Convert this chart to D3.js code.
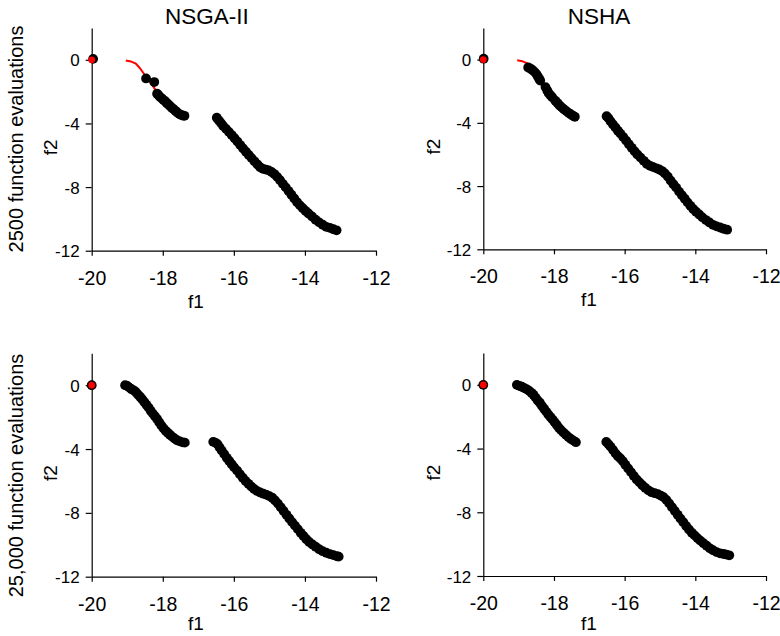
<!DOCTYPE html>
<html>
<head>
<meta charset="utf-8">
<script src="https://cdn.jsdelivr.net/npm/d3@7"></script>
<style>
  html, body { margin: 0; padding: 0; background: #fff; }
  svg text { font-family: "Liberation Sans", Arial, Helvetica, sans-serif; fill: #000; }
</style>
</head>
<body>
<svg id="chart" width="780" height="636"></svg>
<script>
// ---------------- DATA ----------------
const columnTitles = ["NSGA-II", "NSHA"];
const rowTitles = ["2500 function evaluations", "25,000 function evaluations"];
const xTicks = [-20, -18, -16, -14, -12];
const yTicks = [0, -4, -8, -12];
const xDomain = [-20, -12];
const yDomain = [-12, 2];

// true Pareto front (red)
const trueIsolated = [-20, 0];
const trueFrontA = [[-19.04,-0.04],[-18.90,-0.10],[-18.76,-0.24],[-18.66,-0.48],[-18.56,-0.78],[-18.47,-1.08],[-18.36,-1.38],[-18.26,-1.70],[-18.17,-2.03],[-18.05,-2.35],[-17.92,-2.66],[-17.78,-2.95],[-17.64,-3.22],[-17.50,-3.45],[-17.38,-3.58]];
const trueFrontB = [[-16.52,-3.58],[-16.40,-3.92],[-16.26,-4.32],[-16.10,-4.72],[-15.92,-5.25],[-15.72,-5.80],[-15.52,-6.30],[-15.32,-6.64],[-15.14,-6.84],[-14.98,-6.96],[-14.86,-7.18],[-14.72,-7.55],[-14.56,-8.05],[-14.40,-8.52],[-14.22,-9.00],[-14.02,-9.48],[-13.80,-9.92],[-13.58,-10.26],[-13.36,-10.52],[-13.18,-10.66],[-13.06,-10.74]];

// obtained solutions (black), one list per panel
const nsga2500 = [
  [-19.96,0.06],
  [-18.47,-1.17],[-18.24,-1.40],
  [-18.16,-2.13],[-18.12,-2.22],[-18.08,-2.33],[-18.03,-2.42],[-17.98,-2.53],[-17.93,-2.61],[-17.89,-2.72],[-17.84,-2.81],[-17.79,-2.92],[-17.74,-3.03],[-17.69,-3.11],[-17.64,-3.22],[-17.59,-3.31],[-17.54,-3.40],[-17.49,-3.46],[-17.44,-3.50],[-17.39,-3.52],
  [-16.48,-3.64],[-16.42,-3.82],[-16.36,-3.98],[-16.30,-4.16],[-16.22,-4.34],[-16.14,-4.53],[-16.06,-4.73],[-15.98,-4.93],[-15.90,-5.14],[-15.82,-5.36],[-15.74,-5.57],[-15.66,-5.78],[-15.58,-5.98],[-15.50,-6.18],[-15.42,-6.38],[-15.34,-6.57],[-15.26,-6.75],[-15.18,-6.85],[-15.10,-6.90],[-15.02,-6.95],[-14.94,-7.05],[-14.86,-7.18],[-14.78,-7.36],[-14.70,-7.57],[-14.62,-7.80],[-14.54,-8.02],[-14.46,-8.25],[-14.38,-8.48],[-14.30,-8.72],[-14.22,-8.95],[-14.14,-9.15],[-14.06,-9.33],[-13.98,-9.50],[-13.90,-9.66],[-13.80,-9.85],[-13.70,-10.05],[-13.60,-10.22],[-13.50,-10.37],[-13.40,-10.50],[-13.30,-10.56],[-13.20,-10.65],[-13.11,-10.72]
];
const nsha2500 = [
  [-19.99,0.06],
  [-18.73,-0.50],[-18.68,-0.55],[-18.62,-0.64],[-18.56,-0.76],[-18.50,-0.90],[-18.46,-1.05],[-18.42,-1.21],[-18.39,-1.32],
  [-18.24,-1.74],[-18.19,-1.95],[-18.15,-2.12],[-18.10,-2.25],[-18.05,-2.38],[-17.96,-2.60],[-17.90,-2.75],[-17.84,-2.90],[-17.78,-3.02],[-17.72,-3.14],[-17.65,-3.26],[-17.58,-3.38],[-17.52,-3.47],[-17.46,-3.55],[-17.41,-3.62],
  [-16.51,-3.58],[-16.46,-3.70],[-16.40,-3.90],[-16.33,-4.10],[-16.26,-4.30],[-16.19,-4.50],[-16.12,-4.68],[-16.04,-4.90],[-15.96,-5.12],[-15.88,-5.35],[-15.80,-5.58],[-15.72,-5.80],[-15.64,-6.00],[-15.55,-6.20],[-15.46,-6.40],[-15.37,-6.60],[-15.28,-6.72],[-15.19,-6.80],[-15.10,-6.88],[-15.02,-6.95],[-14.94,-7.05],[-14.86,-7.20],[-14.78,-7.40],[-14.70,-7.65],[-14.62,-7.88],[-14.54,-8.10],[-14.46,-8.35],[-14.38,-8.58],[-14.30,-8.80],[-14.22,-9.03],[-14.14,-9.25],[-14.06,-9.45],[-13.98,-9.62],[-13.89,-9.80],[-13.80,-9.98],[-13.70,-10.15],[-13.60,-10.30],[-13.50,-10.45],[-13.40,-10.55],[-13.30,-10.62],[-13.20,-10.70],[-13.10,-10.76]
];
const nsga25000 = [
  [-20.00,0.00],
  [-19.06,0.00],[-19.00,-0.05],[-18.94,-0.15],[-18.88,-0.25],[-18.82,-0.32],[-18.76,-0.42],[-18.70,-0.58],[-18.64,-0.72],[-18.58,-0.88],[-18.52,-1.05],[-18.46,-1.22],[-18.40,-1.40],[-18.34,-1.60],[-18.28,-1.78],[-18.22,-1.95],[-18.16,-2.12],[-18.10,-2.32],[-18.04,-2.52],[-17.98,-2.70],[-17.92,-2.85],[-17.86,-2.98],[-17.80,-3.10],[-17.74,-3.22],[-17.67,-3.34],[-17.60,-3.45],[-17.52,-3.52],[-17.44,-3.58],[-17.38,-3.60],
  [-16.58,-3.55],[-16.52,-3.60],[-16.46,-3.70],[-16.40,-3.90],[-16.34,-4.10],[-16.27,-4.32],[-16.20,-4.55],[-16.13,-4.75],[-16.06,-4.95],[-15.99,-5.15],[-15.91,-5.35],[-15.83,-5.58],[-15.75,-5.80],[-15.67,-6.00],[-15.59,-6.18],[-15.51,-6.35],[-15.43,-6.50],[-15.35,-6.62],[-15.26,-6.72],[-15.17,-6.80],[-15.08,-6.87],[-15.00,-6.95],[-14.92,-7.05],[-14.84,-7.22],[-14.76,-7.42],[-14.68,-7.65],[-14.60,-7.88],[-14.52,-8.12],[-14.44,-8.35],[-14.36,-8.58],[-14.28,-8.80],[-14.20,-9.02],[-14.12,-9.25],[-14.04,-9.45],[-13.96,-9.65],[-13.88,-9.82],[-13.79,-9.98],[-13.70,-10.12],[-13.60,-10.28],[-13.50,-10.40],[-13.40,-10.50],[-13.30,-10.58],[-13.20,-10.65],[-13.10,-10.72],[-13.05,-10.74]
];
const nsha25000 = [
  [-20.00,0.00],
  [-19.05,0.00],[-18.98,-0.06],[-18.91,-0.12],[-18.84,-0.20],[-18.77,-0.28],[-18.70,-0.38],[-18.64,-0.50],[-18.58,-0.62],[-18.52,-0.80],[-18.46,-0.98],[-18.40,-1.12],[-18.34,-1.32],[-18.28,-1.50],[-18.22,-1.68],[-18.16,-1.86],[-18.10,-2.02],[-18.04,-2.18],[-17.98,-2.35],[-17.92,-2.52],[-17.86,-2.70],[-17.80,-2.84],[-17.73,-3.00],[-17.66,-3.14],[-17.59,-3.28],[-17.52,-3.40],[-17.45,-3.50],[-17.38,-3.60],
  [-16.52,-3.58],[-16.46,-3.72],[-16.40,-3.88],[-16.33,-4.08],[-16.26,-4.30],[-16.19,-4.48],[-16.12,-4.62],[-16.05,-4.80],[-15.98,-5.02],[-15.90,-5.25],[-15.82,-5.48],[-15.74,-5.72],[-15.66,-5.94],[-15.58,-6.12],[-15.50,-6.30],[-15.42,-6.46],[-15.33,-6.62],[-15.24,-6.74],[-15.15,-6.80],[-15.06,-6.86],[-14.98,-6.95],[-14.90,-7.05],[-14.82,-7.22],[-14.74,-7.44],[-14.66,-7.68],[-14.58,-7.92],[-14.50,-8.16],[-14.42,-8.40],[-14.34,-8.62],[-14.26,-8.86],[-14.18,-9.08],[-14.10,-9.28],[-14.02,-9.45],[-13.94,-9.62],[-13.86,-9.78],[-13.77,-9.94],[-13.68,-10.10],[-13.59,-10.26],[-13.50,-10.38],[-13.40,-10.50],[-13.30,-10.58],[-13.20,-10.62],[-13.12,-10.66],[-13.04,-10.70]
];

// ---------------- LAYOUT ----------------
const panels = [
  {row:0, col:0, pts:nsga2500,  x0:91.7,  x1:376, yTop:28,    yBot:250.7, trueStyle:"plain"},
  {row:0, col:1, pts:nsha2500,  x0:483.3, x1:766, yTop:28,    yBot:249.3, trueStyle:"plain"},
  {row:1, col:0, pts:nsga25000, x0:91.7,  x1:376, yTop:353.3, yBot:576.7, trueStyle:"outlined"},
  {row:1, col:1, pts:nsha25000, x0:483.3, x1:766, yTop:353,   yBot:576,   trueStyle:"outlined"}
];

const svg = d3.select("#chart");
const font = '"Liberation Sans", Arial, Helvetica, sans-serif';

// column titles
const titleX = [207, 599];
columnTitles.forEach((t, i) => {
  svg.append("text").attr("x", titleX[i]).attr("y", 24)
    .attr("text-anchor", "middle").style("font-size", "22.5px").text(t);
});
// row titles
const rowCenterY = [139, 475.5];
rowTitles.forEach((t, i) => {
  svg.append("text")
    .attr("transform", `translate(23,${rowCenterY[i]}) rotate(-90)`)
    .attr("text-anchor", "middle").style("font-size", "20px").text(t);
});

const line = d3.line();
const f1Offset = [57, 53.5];

panels.forEach(p => {
  const x = d3.scaleLinear().domain(xDomain).range([p.x0, p.x1]);
  const y = d3.scaleLinear().domain(yDomain).range([p.yBot, p.yTop]);
  const g = svg.append("g");

  // x axis
  const xAxis = d3.axisBottom(x).tickValues(xTicks).tickSize(5).tickSizeOuter(0).tickPadding(0)
    .tickFormat(d => String(d));
  const gx = g.append("g").attr("transform", `translate(0,${p.yBot})`).call(xAxis);
  gx.select(".domain").attr("stroke", "#000").attr("stroke-width", 1.2);
  gx.selectAll(".tick line").attr("stroke", "#000").attr("stroke-width", 1.2);
  gx.selectAll(".tick text").attr("y", 34).attr("dy", null)
    .style("font-size", "19.5px").style("font-family", font).attr("fill", "#000");

  // y axis
  const yAxis = d3.axisLeft(y).tickValues(yTicks).tickSize(6).tickSizeOuter(0).tickPadding(0)
    .tickFormat(d => String(d));
  const gy = g.append("g").attr("transform", `translate(${p.x0},0)`).call(yAxis);
  gy.select(".domain").attr("stroke", "#000").attr("stroke-width", 1.2);
  gy.selectAll(".tick line").attr("stroke", "#000").attr("stroke-width", 1.2);
  gy.selectAll(".tick text").attr("x", -12).attr("dy", "0.36em")
    .style("font-size", "17px").style("font-family", font).attr("fill", "#000");

  // axis labels
  const cx = p.col === 0 ? 196 : 589;
  const bx = p.col === 0 ? 56.5 : 440;
  g.append("text").attr("x", cx).attr("y", p.yBot + f1Offset[p.row])
    .attr("text-anchor", "middle").style("font-size", "19px").text("f1");
  g.append("text")
    .attr("transform", `translate(${bx},${(p.yTop + p.yBot) / 2 + 8}) rotate(-90)`)
    .attr("text-anchor", "middle").style("font-size", "19px").text("f2");

  // true front (red line)
  [trueFrontA, trueFrontB].forEach(seg => {
    g.append("path")
      .attr("d", line(seg.map(d => [x(d[0]), y(d[1])])))
      .attr("fill", "none").attr("stroke", "#ff0000").attr("stroke-width", 2);
  });

  // obtained points (black)
  g.append("g").selectAll("circle").data(p.pts).join("circle")
    .attr("cx", d => x(d[0])).attr("cy", d => y(d[1])).attr("r", 4.9)
    .attr("fill", "#000");

  // isolated true point (red)
  const rc = g.append("circle")
    .attr("cx", x(trueIsolated[0])).attr("cy", y(trueIsolated[1]))
    .attr("fill", "#ff0000");
  if (p.trueStyle === "outlined") {
    rc.attr("r", 4).attr("stroke", "#000").attr("stroke-width", 1);
  } else {
    rc.attr("r", 3.4);
  }
});
</script>
</body>
</html>
